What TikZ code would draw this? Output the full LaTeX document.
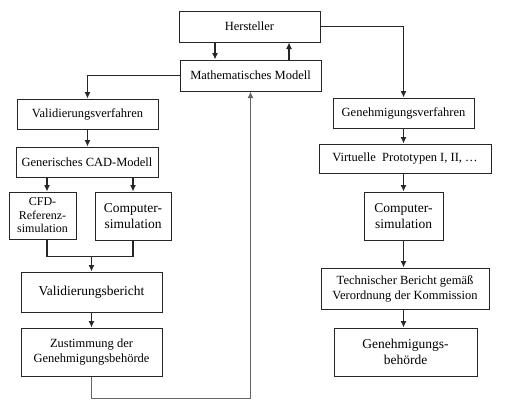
\documentclass[tikz,border=0pt]{standalone}
\usepackage{fontspec}
\setmainfont{Liberation Serif}
\usepackage{tikz}
\usetikzlibrary{shapes,arrows,arrows.meta}
\usetikzlibrary{calc}
\usetikzlibrary{positioning}
\tikzstyle{block} = [draw=black!85, line width=1pt, rectangle, align=center,
    inner sep=0pt, font=\fontsize{12.5}{15}\selectfont]
\tikzstyle{bigblock} = [block, font=\fontsize{13.5}{16.5}\selectfont]
\tikzstyle{smallblock} = [block, font=\fontsize{12}{13.5}\selectfont]
\tikzstyle{line} = [draw=black!85, line width=1.1pt]
\tikzstyle{loop} = [draw=black!60, line width=1.3pt]

\begin{document}
\begin{tikzpicture}[x=1pt, y=-1pt, >={Latex[length=6.5pt,width=6pt]}]
    \useasboundingbox (0,0) rectangle (510,410);
    % We start by placing the blocks
    \node [block, minimum width=141pt, minimum height=31pt] (hersteller) at (249.5,26.5) {Hersteller};
    \node [block, minimum width=141pt, minimum height=31pt] (modell) at (250.5,75.5) {Mathematisches Modell};
    % left branch
    \node [block, minimum width=141pt, minimum height=30pt] (valverf) at (87.5,114) {Validierungsverfahren};
    \node [block, minimum width=142pt, minimum height=30pt] (cad) at (87,162) {Generisches CAD-Modell};
    \node [smallblock, minimum width=67pt, minimum height=47pt] (cfd) at (42.5,215.5) {CFD-\\Referenz-\\simulation};
    \node [bigblock, minimum width=76pt, minimum height=48pt] (compL) at (133,216) {Computer-\\simulation};
    \node [bigblock, minimum width=141pt, minimum height=40pt] (valbericht) at (91.5,292) {Validierungsbericht};
    \node [block, minimum width=141pt, minimum height=48pt] (zustimmung) at (91.5,352) {Zustimmung der\\Genehmigungsbehörde};
    % right branch
    \node [block, minimum width=141pt, minimum height=30pt] (genverf) at (403.5,113) {Genehmigungsverfahren};
    \node [block, minimum width=172pt, minimum height=29pt] (prototypen) at (405,158.5) {Virtuelle\ \ Prototypen I, II, \ldots};
    \node [bigblock, minimum width=79pt, minimum height=48pt] (compR) at (403.5,216) {Computer-\\simulation};
    \node [block, minimum width=168pt, minimum height=41pt] (bericht) at (405,288.5) {Technischer Bericht gemäß\\Verordnung der Kommission};
    \node [bigblock, minimum width=143pt, minimum height=48pt] (behoerde) at (405.5,352) {Genehmigungs-\\behörde};

    % Once the nodes are placed, connecting them is easy
    \draw [line,->] ([xshift=-34.5pt]hersteller.south) -- ([xshift=-34.5pt]hersteller.south |- modell.north);
    \draw [line,->] ([xshift=38.5pt]modell.north) -- ([xshift=38.5pt]modell.north |- hersteller.south);
    \draw [line,->] (modell.west) -| (valverf.north);
    \draw [line,->] (hersteller.east) -| (genverf.north);

    \draw [line,->] (valverf.south) -- (valverf.south |- cad.north);
    \draw [line,->] ([xshift=4.5pt]cfd.north |- cad.south) -- ([xshift=4.5pt]cfd.north);
    \draw [line,->] (compL.north |- cad.south) -- (compL.north);
    \draw [line] ([xshift=4.5pt]cfd.south) -- ++(0,17) -| (compL.south);
    \draw [line,->] (valbericht.north |- 0,256) -- (valbericht.north);
    \draw [line,->] (valbericht.south) -- (zustimmung.north);
    \draw [loop,->] (zustimmung.south) -- ++(0,22) -| (modell.south);

    \draw [line,->] (genverf.south) -- (genverf.south |- prototypen.north);
    \draw [line,->] (genverf.south |- prototypen.south) -- (genverf.south |- compR.north);
    \draw [line,->] (genverf.south |- compR.south) -- (genverf.south |- bericht.north);
    \draw [line,->] (genverf.south |- bericht.south) -- (genverf.south |- behoerde.north);
\end{tikzpicture}
\end{document}
